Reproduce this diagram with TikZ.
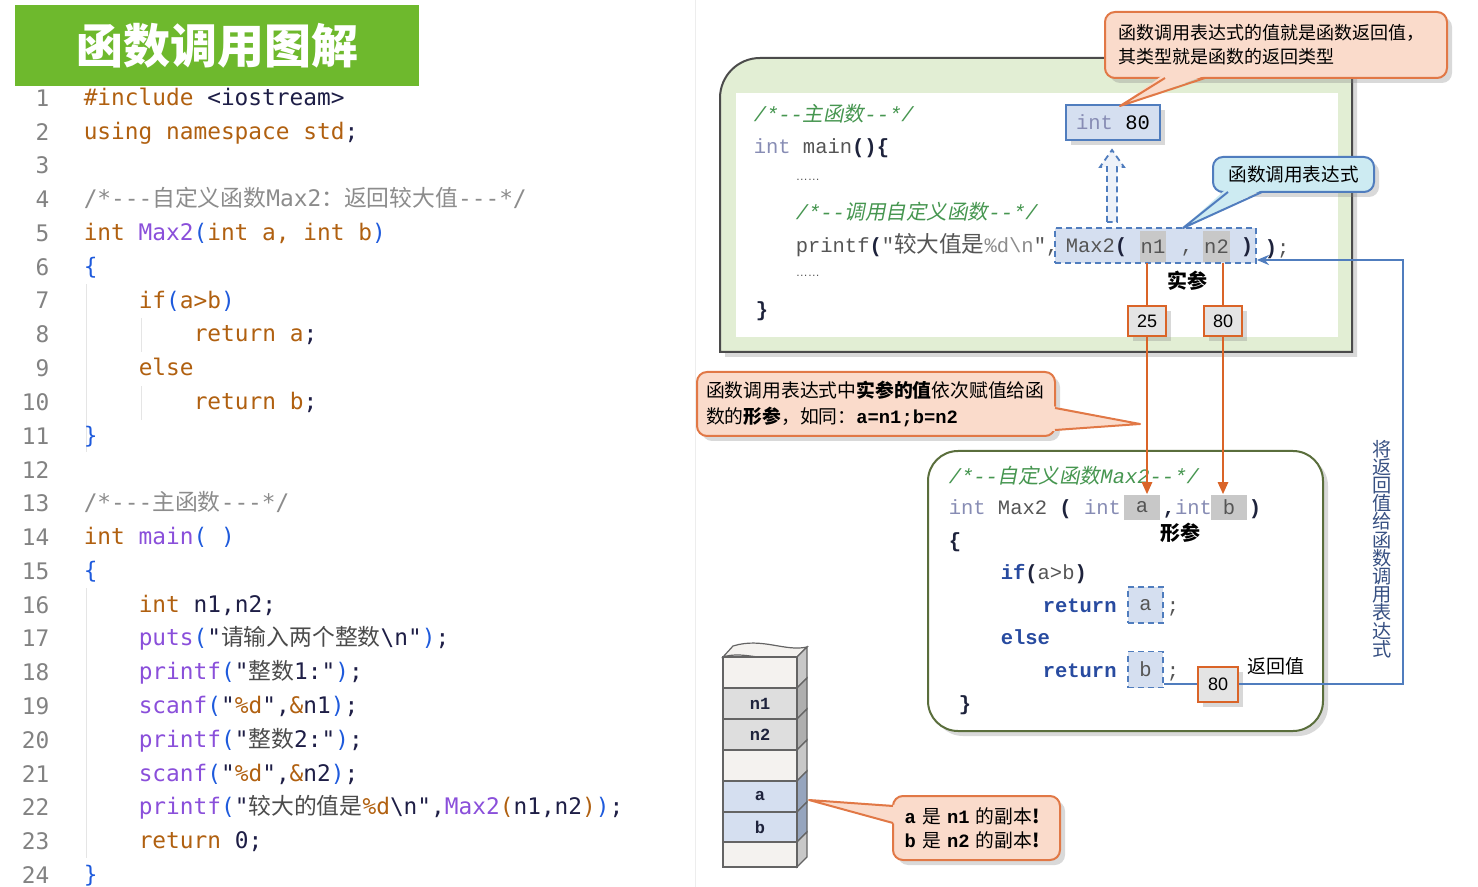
\documentclass[tikz,border=0pt]{standalone}
\usepackage{fontspec}
\setmainfont{Liberation Sans}
\newfontfamily\cjk{Noto Sans CJK SC}
\newfontfamily\cjki{Noto Sans CJK SC}[FakeSlant=0.2]
\newfontfamily\code{DejaVu Sans Mono}[Ligatures=TeXOff]
\newfontfamily\cour{Liberation Mono}[Ligatures=TeXOff]
\usetikzlibrary{positioning,shadows,arrows.meta}

\definecolor{titlegreen}{RGB}{110,185,45}
\definecolor{kwc}{RGB}{176,96,16}
\definecolor{fnc}{RGB}{138,79,218}
\definecolor{pac}{RGB}{30,90,220}
\definecolor{cmc}{RGB}{140,140,140}
\definecolor{txc}{RGB}{30,30,70}
\definecolor{stc}{RGB}{75,75,75}
\definecolor{numc}{RGB}{130,130,130}
\definecolor{boxgreen}{RGB}{226,238,212}
\definecolor{boxline}{RGB}{75,75,75}
\definecolor{funcline}{RGB}{90,110,60}
\definecolor{mgray}{RGB}{85,85,85}
\definecolor{intc}{RGB}{135,140,180}
\definecolor{comg}{RGB}{70,150,80}
\definecolor{kwb}{RGB}{40,75,160}
\definecolor{brk}{RGB}{30,35,60}
\definecolor{notefill}{RGB}{250,219,203}
\definecolor{noteline}{RGB}{225,120,70}
\definecolor{cyanfill}{RGB}{205,235,242}
\definecolor{blueline}{RGB}{80,125,190}
\definecolor{bluefill}{RGB}{213,223,240}
\definecolor{argfill}{RGB}{200,200,200}
\definecolor{valfill}{RGB}{228,228,228}
\definecolor{orline}{RGB}{218,100,40}
\definecolor{vtextc}{RGB}{55,80,130}
\definecolor{cellline}{RGB}{100,100,100}
\definecolor{stkw}{RGB}{244,242,239}
\definecolor{stkws}{RGB}{200,200,200}
\definecolor{stkg}{RGB}{222,222,222}
\definecolor{stkgs}{RGB}{175,175,175}
\definecolor{stkb}{RGB}{213,223,240}
\definecolor{stkbs}{RGB}{150,165,190}

\newcommand\zh[1]{{\cjk #1}}
\newcommand\zhi[1]{{\cjki #1}}
\newcommand\ckw[1]{\textcolor{kwc}{#1}}
\newcommand\cfn[1]{\textcolor{fnc}{#1}}
\newcommand\cpa[1]{\textcolor{pac}{#1}}
\newcommand\cst[1]{\textcolor{stc}{#1}}

\tikzset{every picture/.style={line width=0.75pt},
  lnum/.style={anchor=east, inner sep=0pt, text=numc, font=\code\fontsize{11.4}{12}\selectfont},
  codeline/.style={anchor=base west, inner sep=0pt, yshift=-3.7pt, text=txc, font=\code\fontsize{11.4}{12}\selectfont},
  guide/.style={draw=black!10, line width=0.5pt},
  sepline/.style={draw=black!7, line width=0.5pt},
  titletext/.style={text=white, font=\cjk\bfseries\fontsize{23.5}{24}\selectfont},
  mcode/.style={anchor=base west, inner sep=0pt, yshift=-3.6pt, text=mgray, font=\cour\fontsize{10.25}{12}\selectfont},
  mcomm/.style={mcode, text=comg, font=\cour\itshape\fontsize{10.25}{12}\selectfont},
  mkw/.style={mcode, text=kwb, font=\cour\bfseries\fontsize{10.25}{12}\selectfont},
  shade/.style={drop shadow={shadow xshift=2.5pt, shadow yshift=-2.5pt, opacity=0.3}},
  mainbox/.style={draw=boxline, fill=boxgreen, line width=1pt, shade},
  funcbox/.style={draw=funcline, fill=white, line width=1pt, rounded corners=15pt, shade},
  note/.style={draw=noteline, fill=notefill, line width=1pt, rounded corners=5pt, align=left, shade, font=\cjk\fontsize{9}{12}\selectfont},
  noteedge/.style={draw=noteline, line width=1pt, line join=round},
  cnote/.style={note, draw=blueline, fill=cyanfill, align=center, font=\cjk\fontsize{9.3}{12}\selectfont},
  cnoteedge/.style={noteedge, draw=blueline},
  solidbox/.style={draw=blueline, fill=bluefill, line width=1pt, inner sep=0pt, shade},
  dashbox/.style={draw=blueline, fill=bluefill, dash pattern=on 3pt off 2pt, line width=0.9pt, inner sep=0pt},
  argbox/.style={fill=argfill, inner sep=0pt, text=mgray, font=\cour\fontsize{10.25}{12}\selectfont},
  valbox/.style={draw=orline, fill=valfill, line width=1pt, minimum width=19pt, minimum height=15pt, inner sep=0pt, font=\fontsize{9}{10}\selectfont, shade},
  valline/.style={draw=orline, line width=1.2pt},
  retline/.style={draw=blueline, line width=1pt},
  boldlab/.style={inner sep=0pt, font=\cjk\bfseries\fontsize{10}{12}\selectfont},
  vtext/.style={inner sep=0pt, align=center, text=vtextc, font=\cjk\fontsize{9.6}{9.1}\selectfont},
  cell/.style={draw=cellline, line width=0.6pt, minimum width=37pt, inner sep=0pt, text=brk, font=\cour\bfseries\fontsize{8.5}{10}\selectfont}
}

\begin{document}
\begin{tikzpicture}[x=0.5pt,y=0.5pt,yscale=-1,xscale=1]
\useasboundingbox (0,0) rectangle (1478,887);

%Shape: Title bar
\draw[sepline] (695,0) -- (695,887);
\fill[titlegreen] (15,5) rectangle (419,86);
\node[titletext] (title) at (217,46) {函数调用图解};

%Line numbers
\foreach \k in {1,...,24}
  \node[lnum] (num\k) at (50,{98+(\k-1)*33.78}) {\k};

%Indent guides
\draw[guide] (86,284) -- (86,452);
\draw[guide] (141,318) -- (141,352);
\draw[guide] (141,386) -- (141,420);
\draw[guide] (86,588) -- (86,858);

%Source code
\node[codeline] (c1) at (83,98) {\ckw{\#include} <iostream>};
\node[codeline] (c2) at (83,131.8) {\ckw{using namespace std};};
\node[codeline] (c4) at (83,199.3) {\textcolor{cmc}{/*---\zh{自定义函数}Max2\zh{：返回较大值}---*/}};
\node[codeline] (c5) at (83,233.1) {\ckw{int} \cfn{Max2}\cpa{(}\ckw{int a, int b}\cpa{)}};
\node[codeline] (c6) at (83,266.9) {\cpa{\{}};
\node[codeline] (c7) at (138,300.7) {\ckw{if}\cpa{(}\ckw{a>b}\cpa{)}};
\node[codeline] (c8) at (193,334.5) {\ckw{return a};};
\node[codeline] (c9) at (138,368.2) {\ckw{else}};
\node[codeline] (c10) at (193,402) {\ckw{return b};};
\node[codeline] (c11) at (83,435.8) {\cpa{\}}};
\node[codeline] (c13) at (83,503.4) {\textcolor{cmc}{/*---\zh{主函数}---*/}};
\node[codeline] (c14) at (83,537.1) {\ckw{int} \cfn{main}\cpa{(} \cpa{)}};
\node[codeline] (c15) at (83,570.9) {\cpa{\{}};
\node[codeline] (c16) at (138,604.7) {\ckw{int} n1,n2;};
\node[codeline] (c17) at (138,638.5) {\cfn{puts}\cpa{(}"\cst{\zh{请输入两个整数}}\textbackslash n"\cpa{)};};
\node[codeline] (c18) at (138,672.3) {\cfn{printf}\cpa{(}"\cst{\zh{整数}}1:"\cpa{)};};
\node[codeline] (c19) at (138,706) {\cfn{scanf}\cpa{(}"\ckw{\%d}",\ckw{\&}n1\cpa{)};};
\node[codeline] (c20) at (138,739.8) {\cfn{printf}\cpa{(}"\cst{\zh{整数}}2:"\cpa{)};};
\node[codeline] (c21) at (138,773.6) {\cfn{scanf}\cpa{(}"\ckw{\%d}",\ckw{\&}n2\cpa{)};};
\node[codeline] (c22) at (138,807.4) {\cfn{printf}\cpa{(}"\cst{\zh{较大的值是}}\ckw{\%d}\textbackslash n",\cfn{Max2}\ckw{(}n1,n2\ckw{)}\cpa{)};};
\node[codeline] (c23) at (138,841.2) {\ckw{return} 0;};
\node[codeline] (c24) at (83,874.9) {\cpa{\}}};

%Shape: Main function box
\draw[mainbox] (720,352) -- (720,98) arc[start angle=180, end angle=270, radius=40] -- (1352,58) -- (1352,352) -- cycle;
\fill[white] (736,93) rectangle (1338,337);

\node[mcomm] (mc1) at (753,114) {/*--\zhi{主函数}--*/};
\node[mcode] (mmain) at (753,146) {\textcolor{intc}{int} main\textcolor{brk}{\bfseries()\{}};
\node[mcode, font=\fontsize{6}{6}\selectfont] (dots1) at (795,173) {……};
\node[mcomm] (mc2) at (795,212) {/*--\zhi{调用自定义函数}--*/};
\node[mcode] (mprintf) at (795,245) {printf\textcolor{brk}{\bfseries(}"{\fontsize{11.3}{12}\selectfont\cjk 较大值是}\textcolor{black!45}{\%d\textbackslash n}",};
\node[mcode, font=\fontsize{6}{6}\selectfont] (dots2) at (795,269) {……};
\node[mcode] (mend) at (755,309) {\textcolor{brk}{\bfseries\}}};

%Call expression
\node[dashbox, minimum width=100.5pt, minimum height=17.5pt] (call) at (1155.5,245.5) {};
\node[mcode] (callname) at (1065,245) {Max2\textcolor{brk}{\bfseries(}};
\node[argbox, minimum width=13pt, minimum height=15.5pt] (n1arg) at (1153,246.5) {n1};
\node[mcode] (comma) at (1180,245) {,};
\node[argbox, minimum width=13.5pt, minimum height=15.5pt] (n2arg) at (1216.5,246.5) {n2};
\node[mcode] (close) at (1240,245) {\textcolor{brk}{\bfseries)}};
\node[mcode] (tail) at (1264,247) {\textcolor{brk}{\bfseries)};};

%Result box and hollow arrow
\node[solidbox, minimum width=47pt, minimum height=17.5pt, font=\cour\fontsize{10.25}{12}\selectfont] (int80) at (1113,122.5) {\textcolor{intc}{int} 80};
\draw[draw=blueline, fill=bluefill!40, dash pattern=on 3pt off 2pt, line width=0.9pt] (1107,222) -- (1107,167) -- (1100,167) -- (1112,150) -- (1124,167) -- (1117,167) -- (1117,222) -- cycle;

%Callout: return value
\node[note, minimum width=171pt, minimum height=33pt, text width=158pt, inner xsep=6.5pt] (retnote) at (1276,45) {函数调用表达式的值就是函数返回值，\\其类型就是函数的返回类型};
\fill[notefill] (1163,75) -- (1120,106) -- (1207,75) -- cycle;
\draw[noteedge] (1165,78) -- (1120,106) -- (1205,78);

%Callout: call expression
\node[cnote, minimum width=80.5pt, minimum height=17.5pt] (exprnote) at (1293.5,174.5) {函数调用表达式};
\fill[cyanfill] (1226,189) -- (1183,228) -- (1264,189) -- cycle;
\draw[cnoteedge] (1228,192) -- (1183,228) -- (1262,192);

\node[boldlab] (shican) at (1187,281) {实参};

%Shape: Max2 function box
\draw[funcbox] (928,451) rectangle (1323,731);
\node[mcomm] (fc1) at (948,476) {/*--\zhi{自定义函数}Max2--*/};
\node[mcode] (fhead) at (948,507) {\textcolor{intc}{int} Max2 \textcolor{brk}{\bfseries(} \textcolor{intc}{int}};
\node[argbox, minimum width=18pt, minimum height=12.5pt] (pa) at (1142,507.5) {a};
\node[mcode] (fmid) at (1162,507) {\textcolor{brk}{\bfseries,}\textcolor{intc}{int}};
\node[argbox, minimum width=18pt, minimum height=12.5pt] (pb) at (1229,507.5) {b};
\node[mcode] (fclose) at (1248,507) {\textcolor{brk}{\bfseries)}};
\node[boldlab] (xingcan) at (1180,533) {形参};
\node[mcode] (fopen) at (948,540) {\textcolor{brk}{\bfseries\{}};
\node[mkw] (fif) at (1000,572) {if\textcolor{brk}{(}\textcolor{mgray}{\mdseries a>b}\textcolor{brk}{)}};
\node[mkw] (fret1) at (1042,605) {return};
\node[dashbox, minimum width=17.5pt, minimum height=18pt, text=mgray, font=\cour\fontsize{10.25}{12}\selectfont] (ra) at (1145.5,605) {a};
\node[mcode] (semi1) at (1166,605) {;};
\node[mkw] (felse) at (1000,637) {else};
\node[mkw] (fret2) at (1042,670) {return};
\node[dashbox, minimum width=17.5pt, minimum height=18pt, text=mgray, font=\cour\fontsize{10.25}{12}\selectfont] (rb) at (1145.5,669.5) {b};
\node[mcode] (semi2) at (1166,670) {;};
\node[mcode] (fend) at (958,703) {\textcolor{brk}{\bfseries\}}};

%Argument values
\node[valbox] (v25) at (1147,321) {25};
\node[valbox] (v80) at (1223,321) {80};
\draw[valline] (v25 |- n1arg.south) -- (v25.north);
\draw[valline] (v80 |- n2arg.south) -- (v80.north);
\draw[valline, -{Triangle[length=6pt,width=5pt]}] (v25.south) -- (v25 |- pa.north);
\draw[valline, -{Triangle[length=6pt,width=5pt]}] (v80.south) -- (v80 |- pb.north);

%Callout: argument passing
\node[note, minimum width=179pt, minimum height=32pt, text width=170pt, inner xsep=4.5pt, font=\cjk\fontsize{9.4}{13}\selectfont] (argnote) at (876,404) {函数调用表达式中{\bfseries 实参的值}依次赋值给函\\数的{\bfseries 形参}，如同：{\cour\bfseries a=n1;b=n2}};
\fill[notefill] (1052,406) -- (1140,424) -- (1052,431) -- cycle;
\draw[noteedge] (1055,408) -- (1140,424) -- (1055,430);

%Return path
\coordinate (rc1) at (1403,684);
\coordinate (rc2) at (1403,260);
\node[valbox, minimum width=20pt, minimum height=17.5pt] (rv) at (1218,684) {80};
\draw[retline] (rb.east |- rv) -- (rv.west);
\draw[retline, -{Stealth[length=6pt,width=5pt]}] (rv.east) -- (rc1) -- (rc2) -- (call.east |- rc2);
\node[inner sep=0pt, font=\cjk\fontsize{9.5}{12}\selectfont] (retlab) at (1276,666) {返回值};
\node[vtext] (vlab) at (1382,549) {将\\返\\回\\值\\给\\函\\数\\调\\用\\表\\达\\式};

%Shape: Stack
\filldraw[draw=cellline, fill=stkw, line width=0.6pt] (723,657) .. controls (745,650) and (768,664) .. (797,657) -- (807,647) .. controls (785,652) and (762,637) .. (733,646) -- cycle;
\foreach \ya/\yb/\lab/\fc/\sc [count=\i] in {657/688//stkw/stkws, 688/719/n1/stkg/stkgs, 719/750/n2/stkg/stkgs, 750/781//stkw/stkws, 781/812/a/stkb/stkbs, 812/842/b/stkb/stkbs, 842/867//stkw/stkws}{
  \filldraw[draw=cellline, fill=\sc, line width=0.6pt] (797,\ya) -- (807,\ya-10) -- (807,\yb-10) -- (797,\yb) -- cycle;
  \node[cell, fill=\fc, minimum height={(\yb-\ya)/2*1pt}] (s\i) at (760,{(\ya+\yb)/2}) {\lab};
}

%Callout: copies
\node[note, minimum width=83.5pt, minimum height=32pt, text width=72pt, inner xsep=5.75pt, font=\cjk\fontsize{9.4}{12}\selectfont] (copynote) at (976.5,828) {{\cour\bfseries a} 是 {\cour\bfseries n1} 的副本{\bfseries !}\\{\cour\bfseries b} 是 {\cour\bfseries n2} 的副本{\bfseries !}};
\fill[notefill] (896,805) -- (809,800) -- (896,824) -- cycle;
\draw[noteedge] (893,806) -- (809,800) -- (893,823);

\end{tikzpicture}
\end{document}
